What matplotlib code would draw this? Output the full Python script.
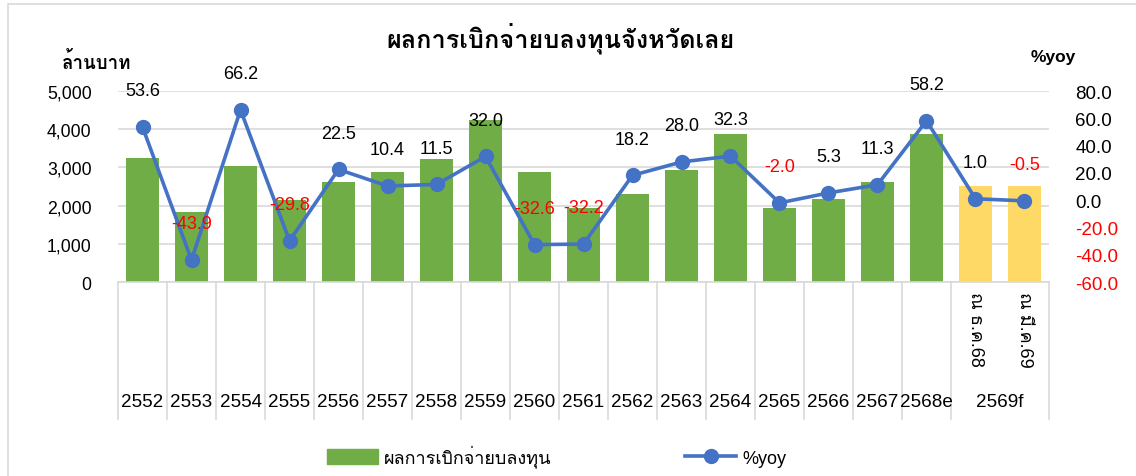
'''
Loei province investment disbursement chart (bars + %yoy line)
'''

import matplotlib
matplotlib.use('Agg')
import matplotlib.pyplot as plt
from matplotlib import font_manager
from matplotlib.ft2font import FT2Font
from matplotlib.patches import Rectangle
from matplotlib.ticker import FuncFormatter

years = ['2552', '2553', '2554', '2555', '2556', '2557', '2558', '2559', '2560',
         '2561', '2562', '2563', '2564', '2565', '2566', '2567', '2568e']
sub_labels = ['ณ ธ.ค.68', 'ณ มี.ค.69']
group_label = '2569f'
disburse = [3250, 1830, 3040, 2140, 2630, 2890, 3230, 4250, 2870,
            1950, 2300, 2940, 3880, 1950, 2160, 2630, 3880, 2520, 2520]
yoy = [53.6, -43.9, 66.2, -29.8, 22.5, 10.4, 11.5, 32.0, -32.6,
       -32.2, 18.2, 28.0, 32.3, -2.0, 5.3, 11.3, 58.2, 1.0, -0.5]

title = 'ผลการเบิกจ่ายบลงทุนจังหวัดเลย'
bar_name = 'ผลการเบิกจ่ายบลงทุน'
line_name = '%yoy'
left_unit = 'ล้านบาท'


def find_thai_font():
    '''Return name of first installed font with Thai glyphs'''
    for f in font_manager.fontManager.ttflist:
        try:
            if 0x0E01 in FT2Font(f.fname).get_charmap():
                return f.name
        except Exception:
            pass
    return 'DejaVu Sans'


fam = ['Liberation Sans', find_thai_font(), 'DejaVu Sans']
plt.rcParams['font.family'] = fam

GREEN = '#70AD47'
YELLOW = '#FFD966'
BLUE = '#4472C4'
GRID = '#D9D9D9'
FS = 13

n = len(disburse)
x = list(range(n))
bar_colors = [GREEN] * len(years) + [YELLOW] * len(sub_labels)

fig = plt.figure(figsize=(11.36, 4.77), dpi=100)
ax = fig.add_axes([0.1039, 0.4067, 0.8195, 0.4004])
ax2 = ax.twinx()

ax.bar(x, disburse, width=0.66, color=bar_colors, zorder=2)
ax.set_xlim(-0.5, n - 0.5)
ax.set_ylim(0, 5000)
ax.set_yticks(range(0, 5001, 1000))
ax.yaxis.set_major_formatter(FuncFormatter(lambda v, p: f'{v:,.0f}'))
ax.grid(axis='y', color=GRID, linewidth=1.2, zorder=0)
ax.set_axisbelow(True)
ax.tick_params(axis='y', length=0, pad=19, labelsize=12.7)
ax.set_xticks([])
for s in ['top', 'left', 'right']:
    ax.spines[s].set_visible(False)
ax.spines['bottom'].set_color(GRID)
ax.spines['bottom'].set_linewidth(1.2)

ax2.plot(x, yoy, color=BLUE, linewidth=2.6, marker='o', markersize=10, zorder=3)
ax2.set_ylim(-60, 80)
ax2.set_yticks(range(-60, 81, 20))
ax2.yaxis.set_major_formatter(FuncFormatter(lambda v, p: f'{v:.1f}'))
ax2.tick_params(axis='y', length=0, pad=19, labelsize=13.5)
for lbl, v in zip(ax2.get_yticklabels(), range(-60, 81, 20)):
    lbl.set_horizontalalignment('left')
    if v < 0:
        lbl.set_color('red')
for s in ax2.spines.values():
    s.set_visible(False)

for xi, v in zip(x, yoy):
    ax2.annotate(f'{v:.1f}', (xi, v), xytext=(0, 26), textcoords='offset points',
                 ha='center', va='center', fontsize=FS,
                 color='red' if v < 0 else 'black', zorder=4)

# category table below the plot
trans = ax.get_xaxis_transform()
sep_bottom = -0.717
for b in range(len(years) + 1):
    ax.plot([b - 0.5, b - 0.5], [0, sep_bottom], transform=trans,
            color=GRID, linewidth=1.2, clip_on=False)
ax.plot([n - 0.5, n - 0.5], [0, sep_bottom], transform=trans,
        color=GRID, linewidth=1.2, clip_on=False)
for xi, lab in enumerate(years):
    ax.text(xi, -0.628, lab, transform=trans, ha='center', va='center',
            fontsize=13.6)
for j, lab in enumerate(sub_labels):
    ax.text(len(years) + j, -0.045, lab, transform=trans, ha='center', va='top',
            rotation=270, fontsize=13)
ax.text(len(years) + (len(sub_labels) - 1) / 2, -0.628, group_label,
        transform=trans, ha='center', va='center', fontsize=13.6)

fig.text(0.493, 0.92, title, ha='center', va='center', fontsize=18.2,
         fontweight='bold')
fig.text(0.085, 0.868, left_unit, ha='center', va='center', fontsize=13.5,
         fontweight='bold')
fig.text(0.927, 0.88, line_name, ha='center', va='center', fontsize=12.5,
         fontweight='bold')

handles = [Rectangle((0, 0), 1, 1, color=GREEN),
           plt.Line2D([], [], color=BLUE, linewidth=2.6, marker='o', markersize=10)]
fig.legend(handles, [bar_name, line_name], loc='center', ncol=2,
           bbox_to_anchor=(0.49, 0.042), frameon=False, fontsize=13,
           handlelength=2.8, handleheight=0.9, handletextpad=0.35,
           columnspacing=7.4)

fig.patches.append(Rectangle((0.007, -0.02), 1.0, 1.01, transform=fig.transFigure,
                             fill=False, edgecolor=GRID, linewidth=1.2))

fig.savefig('out.png', dpi=100)
